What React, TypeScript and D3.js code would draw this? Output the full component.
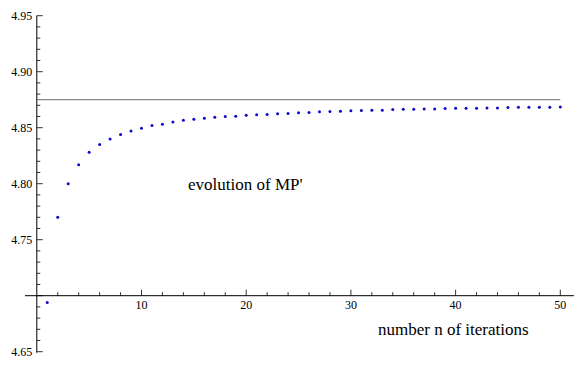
import { useEffect, useRef } from 'react';
import * as d3 from 'd3';

const W = 586, H = 367;

// iteration index and value of MP'
const ITER = d3.range(1, 51);
const MP = [
  4.694, 4.770, 4.800, 4.817, 4.828, 4.835, 4.840, 4.844, 4.847, 4.8495,
  4.852, 4.853, 4.855, 4.8566, 4.8575, 4.8584, 4.8593, 4.8600, 4.8603, 4.8611,
  4.8616, 4.8618, 4.8625, 4.8627, 4.8634, 4.8636, 4.8642, 4.8644, 4.8646, 4.8651,
  4.8653, 4.8655, 4.8656, 4.8663, 4.8664, 4.8665, 4.8666, 4.8667, 4.8672, 4.8673,
  4.8674, 4.8674, 4.8675, 4.8676, 4.8681, 4.8682, 4.8682, 4.8683, 4.8683, 4.8684,
];
const LIMIT = 4.875;

const X_TICKS = [10, 20, 30, 40, 50];
const X_MINOR = d3.range(2, 52, 2);
const Y_TICKS = [4.65, 4.75, 4.80, 4.85, 4.90, 4.95];
const Y_MINOR = d3.range(465, 496, 1).map((v) => v / 100);

const FONT = "'Liberation Serif', 'Times New Roman', Times, serif";

export default function App() {
  const svgRef = useRef<SVGSVGElement>(null);

  useEffect(() => {
    const svg = d3.select(svgRef.current);
    svg.selectAll('*').remove();

    const x = d3.scaleLinear().domain([0, 50]).range([36.8, 560.3]);
    const y = d3.scaleLinear().domain([4.70, 4.95]).range([295.7, 15.7]);

    const ox = x(0), oy = y(4.70);

    // limit line
    svg.append('line')
      .attr('x1', ox).attr('x2', x(50))
      .attr('y1', y(LIMIT)).attr('y2', y(LIMIT))
      .attr('stroke', '#8c8c8c').attr('stroke-width', 1.2);

    // axes
    svg.append('line')
      .attr('x1', x(-1.13)).attr('x2', x(51.3))
      .attr('y1', oy).attr('y2', oy)
      .attr('stroke', '#000').attr('stroke-width', 1);
    svg.append('line')
      .attr('x1', ox).attr('x2', ox)
      .attr('y1', y(4.95)).attr('y2', y(4.649))
      .attr('stroke', '#000').attr('stroke-width', 1);

    // x ticks (pointing up)
    svg.selectAll('.xminor').data(X_MINOR).join('line')
      .attr('x1', (d) => x(d)).attr('x2', (d) => x(d))
      .attr('y1', oy).attr('y2', (d) => oy - (d % 10 === 0 ? 6 : 3.5))
      .attr('stroke', '#000').attr('stroke-width', 0.8);
    svg.selectAll('.xlab').data(X_TICKS).join('text')
      .attr('x', (d) => x(d)).attr('y', oy + 13)
      .attr('text-anchor', 'middle')
      .style('font-family', FONT).style('font-size', '12px')
      .text((d) => d);

    // y ticks (pointing right)
    svg.selectAll('.yminor').data(Y_MINOR).join('line')
      .attr('x1', ox).attr('x2', (d) => ox + (Math.round(d * 100) % 5 === 0 ? 6 : 3.5))
      .attr('y1', (d) => y(d)).attr('y2', (d) => y(d))
      .attr('stroke', '#000').attr('stroke-width', 0.8);
    svg.selectAll('.ylab').data(Y_TICKS).join('text')
      .attr('x', ox - 4.5).attr('y', (d) => y(d))
      .attr('text-anchor', 'end').attr('dominant-baseline', 'central')
      .style('font-family', FONT).style('font-size', '12px')
      .text((d) => d.toFixed(2));

    // points
    svg.selectAll('.pt').data(ITER).join('circle')
      .attr('cx', (d) => x(d))
      .attr('cy', (d, i) => y(MP[i]))
      .attr('r', 1.5)
      .attr('fill', '#0a0ac8');

    // labels
    svg.append('text')
      .attr('x', 188).attr('y', 190)
      .style('font-family', FONT).style('font-size', '17px')
      .text("evolution of MP'");
    svg.append('text')
      .attr('x', 378).attr('y', 335)
      .style('font-family', FONT).style('font-size', '17px')
      .text('number n of iterations');
  }, []);

  return (
    <svg
      ref={svgRef}
      width={W}
      height={H}
      style={{ position: 'absolute', left: 0, top: 0, background: '#fff' }}
    />
  );
}
